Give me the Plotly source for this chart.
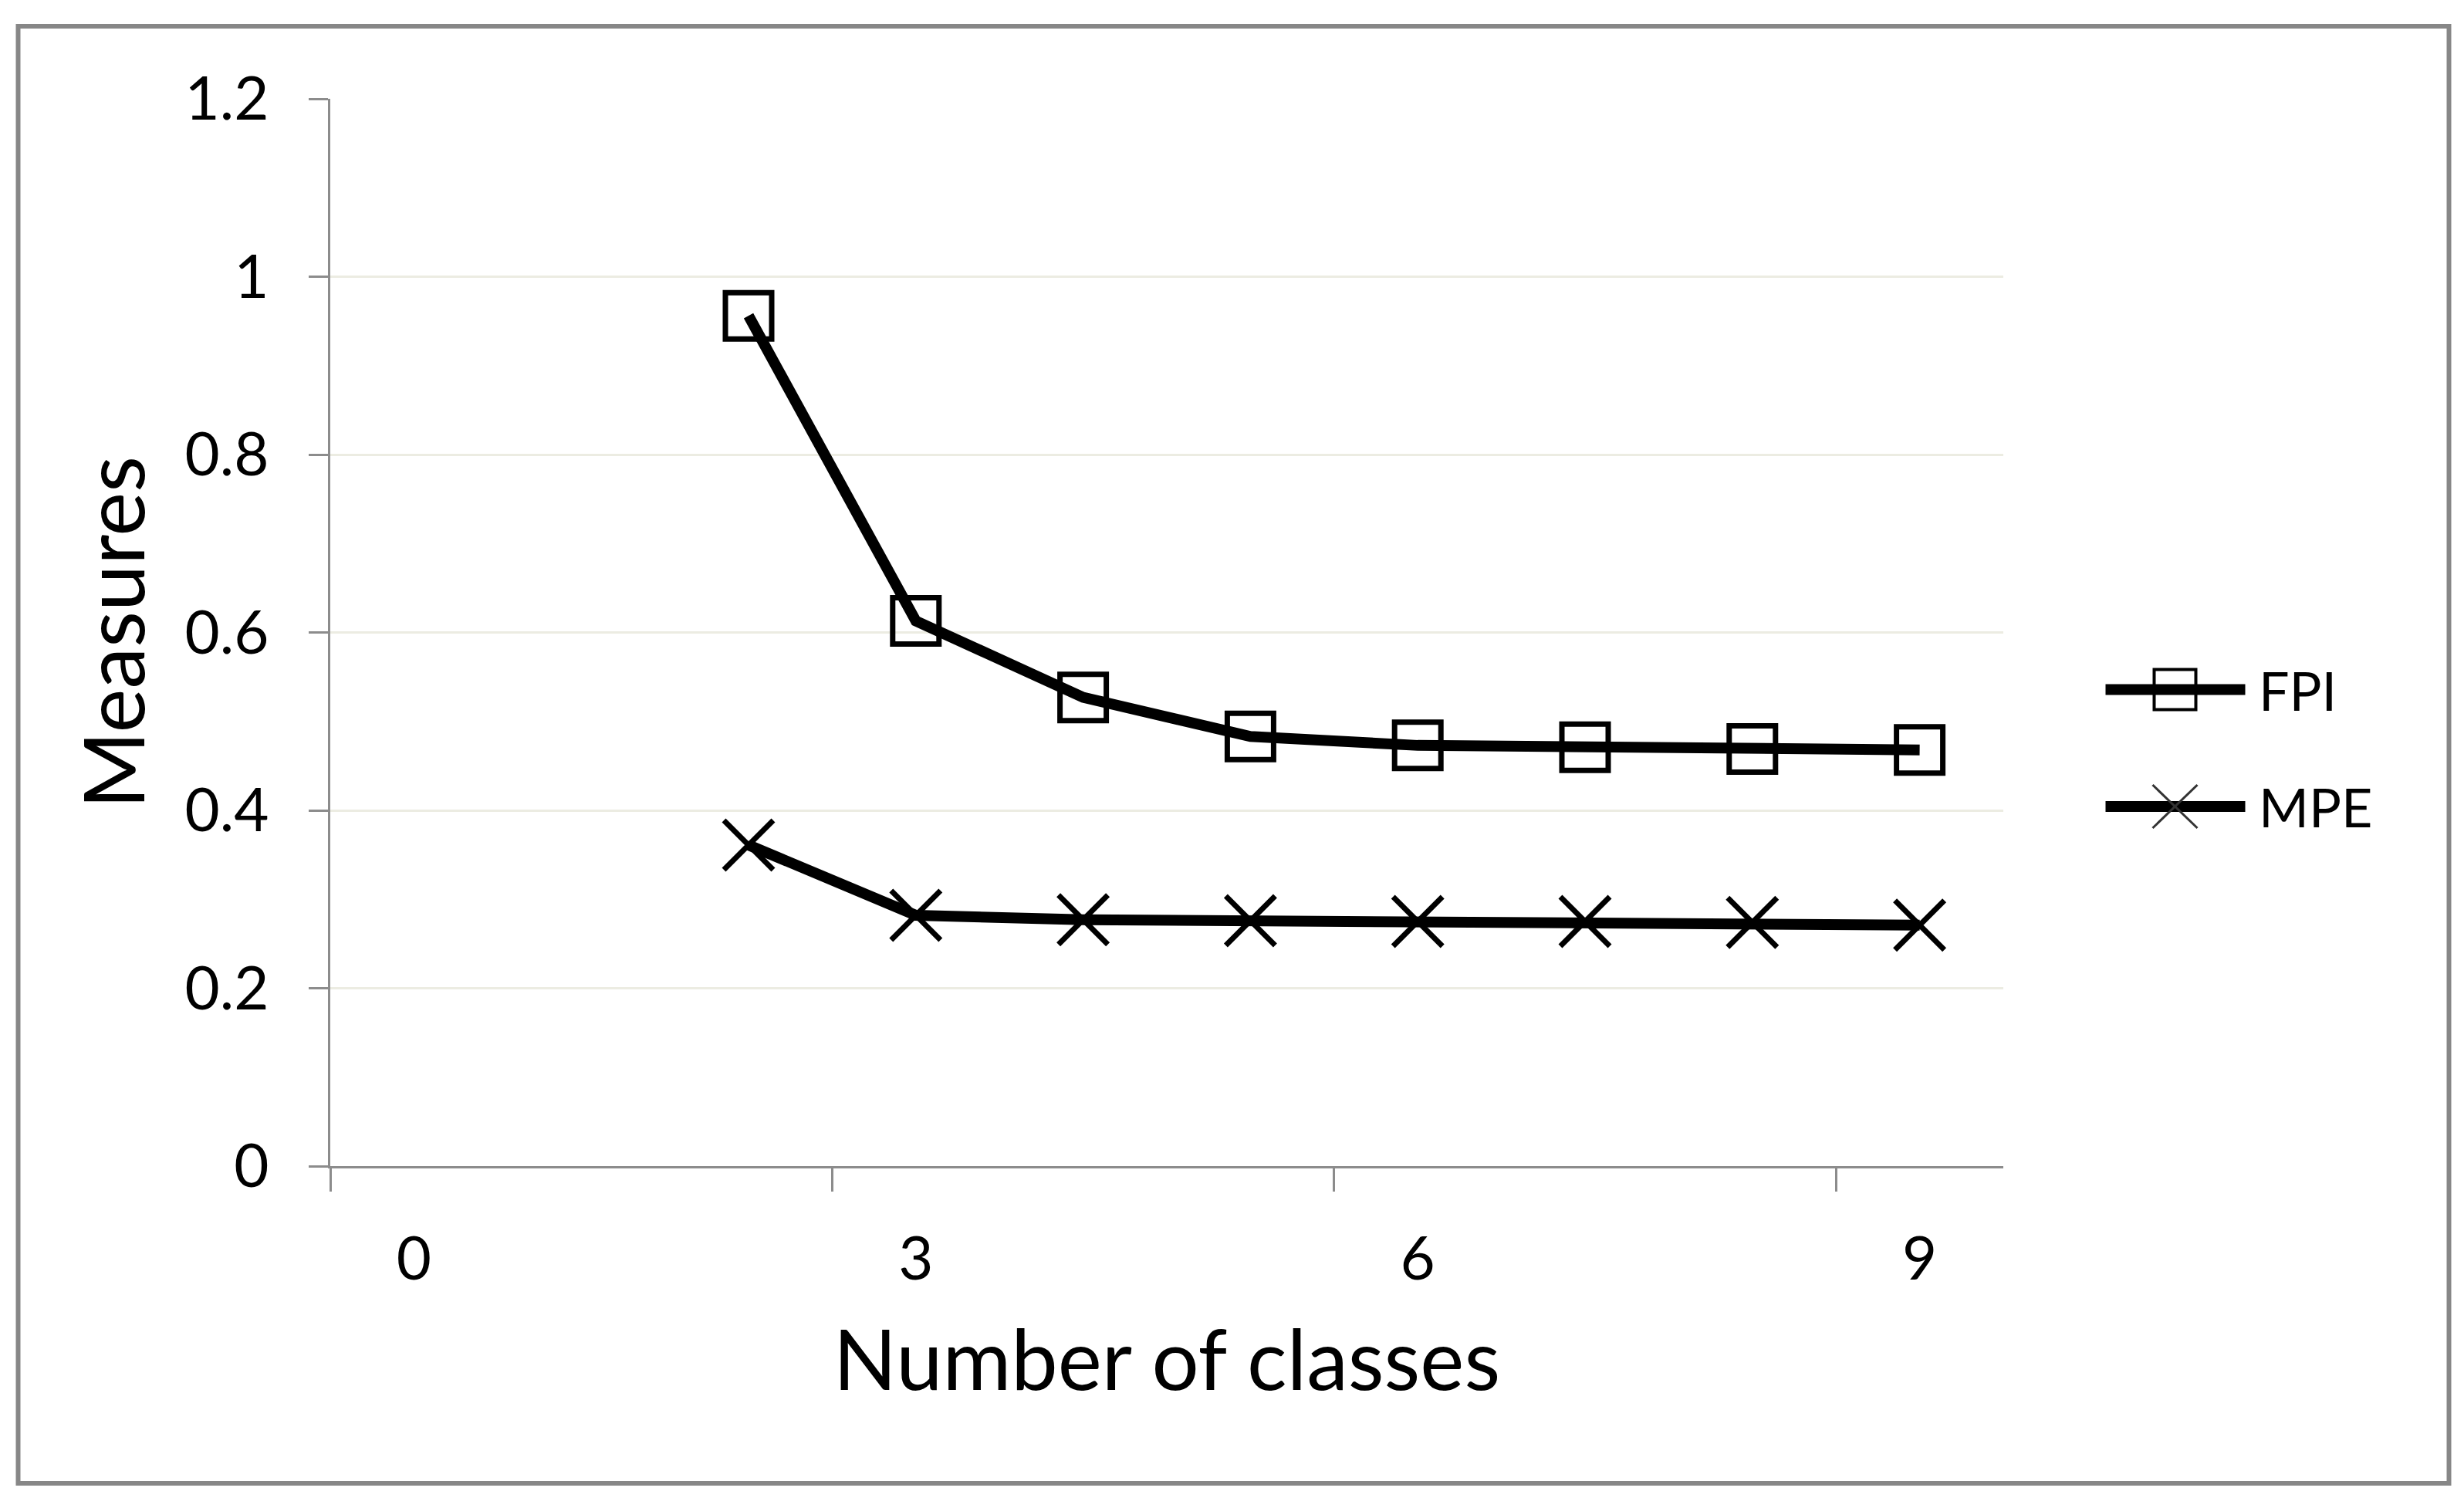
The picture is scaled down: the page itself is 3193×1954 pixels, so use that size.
import plotly.graph_objects as go

# ---- data ----
classes = [2, 3, 4, 5, 6, 7, 8, 9]
fpi = [0.956, 0.613, 0.527, 0.483, 0.473, 0.471, 0.469, 0.468]
mpe = [0.361, 0.282, 0.277, 0.276, 0.275, 0.275, 0.274, 0.271]
x_tick_vals = [0, 3, 6, 9]
x_tick_text = ["0", "3", "6", "9"]
x_boundaries = [-0.5, 2.5, 5.5, 8.5]
y_tick_vals = [0, 0.2, 0.4, 0.6, 0.8, 1.0, 1.2]
y_tick_text = ["0", "0.2", "0.4", "0.6", "0.8", "1", "1.2"]
series_names = ["FPI", "MPE"]

FONT = "Lato, 'Open Sans', sans-serif"
AXIS_GRAY = "#8c8c8c"
GRID = "#ecece2"

# page has an 8px body margin; work in screen pixels and convert
OFF = 8
W, H = 3193 - 2 * OFF, 1954 - 2 * OFF
PL, PR, PT, PB = 427.5, 2596, 128, 1511          # plot area in screen px
ML, MT = PL - OFF, PT - OFF
MR, MB = W - (PR - OFF), H - (PB - OFF)

fig = go.Figure()
fig.add_trace(go.Scatter(
    x=classes, y=fpi, name=series_names[0], mode="lines+markers",
    line=dict(color="black", width=14),
    marker=dict(symbol="square-open", size=60, color="black",
                line=dict(width=7, color="black")),
    showlegend=False,
))
fig.add_trace(go.Scatter(
    x=classes, y=mpe, name=series_names[1], mode="lines+markers",
    line=dict(color="black", width=14),
    marker=dict(symbol="x-thin-open", size=64, color="black",
                line=dict(width=7, color="black")),
    showlegend=False,
))

fig.update_layout(
    width=W, height=H,
    margin=dict(l=ML, r=MR, t=MT, b=MB, autoexpand=False),
    paper_bgcolor="white", plot_bgcolor="white",
    font=dict(family=FONT, color="black"),
    xaxis=dict(
        range=[-0.5, 9.5], tickmode="array", tickvals=x_tick_vals, ticktext=x_tick_text,
        ticks="", showgrid=False, zeroline=False,
        showline=True, linecolor=AXIS_GRAY, linewidth=3,
        tickfont=dict(size=78, family=FONT, color="black"),
        ticklabelstandoff=50,
        minor=dict(tickmode="array", tickvals=x_boundaries, ticks="outside",
                   ticklen=30, tickwidth=3, tickcolor=AXIS_GRAY, showgrid=False),
        title=dict(text="Number of classes", font=dict(size=108, family=FONT, color="black"),
                   standoff=52),
        automargin=False,
    ),
    yaxis=dict(
        range=[0, 1.2], tickmode="array", tickvals=y_tick_vals, ticktext=y_tick_text,
        ticks="outside", ticklen=25, tickwidth=3, tickcolor=AXIS_GRAY,
        showgrid=True, gridcolor=GRID, gridwidth=3, zeroline=False,
        showline=True, linecolor=AXIS_GRAY, linewidth=3,
        tickfont=dict(size=78, family=FONT, color="black"),
        ticklabelstandoff=36,
        title=dict(text="Measures", font=dict(size=108, family=FONT, color="black"),
                   standoff=16),
        automargin=False,
    ),
)


def px(xs):
    return xs - PL


def py(ys):
    return PB - ys


common = dict(xref="paper", yref="paper", xsizemode="pixel", ysizemode="pixel",
              xanchor=0, yanchor=0)
shapes = []
# outer chart border
shapes.append(dict(type="rect", x0=px(23), x1=px(3173), y0=py(1922), y1=py(34),
                   line=dict(color="#878787", width=6), fillcolor="rgba(0,0,0,0)",
                   layer="below", **common))

# custom legend
rows = [893.5, 1045]
lx0, lx1, mx, tx = px(2728), px(2909), px(2818), px(2924)
for i, name in enumerate(series_names):
    yy = py(rows[i])
    shapes.append(dict(type="line", x0=lx0, x1=lx1, y0=yy, y1=yy,
                       line=dict(color="black", width=14), **common))
    if i == 0:
        shapes.append(dict(type="rect", x0=mx - 27, x1=mx + 27, y0=yy - 26, y1=yy + 26,
                           line=dict(color="black", width=4), fillcolor="rgba(0,0,0,0)",
                           **common))
    else:
        for sgn in (1, -1):
            shapes.append(dict(type="line", x0=mx - 29, x1=mx + 29,
                               y0=yy - 28 * sgn, y1=yy + 28 * sgn,
                               line=dict(color="#333333", width=3), **common))
    fig.add_annotation(x=0, y=0, xref="paper", yref="paper", xshift=tx, yshift=yy,
                       xanchor="left", yanchor="middle", text=name, showarrow=False,
                       font=dict(size=70, family=FONT, color="black"))

fig.update_layout(shapes=shapes)
fig.write_html("out.html")
